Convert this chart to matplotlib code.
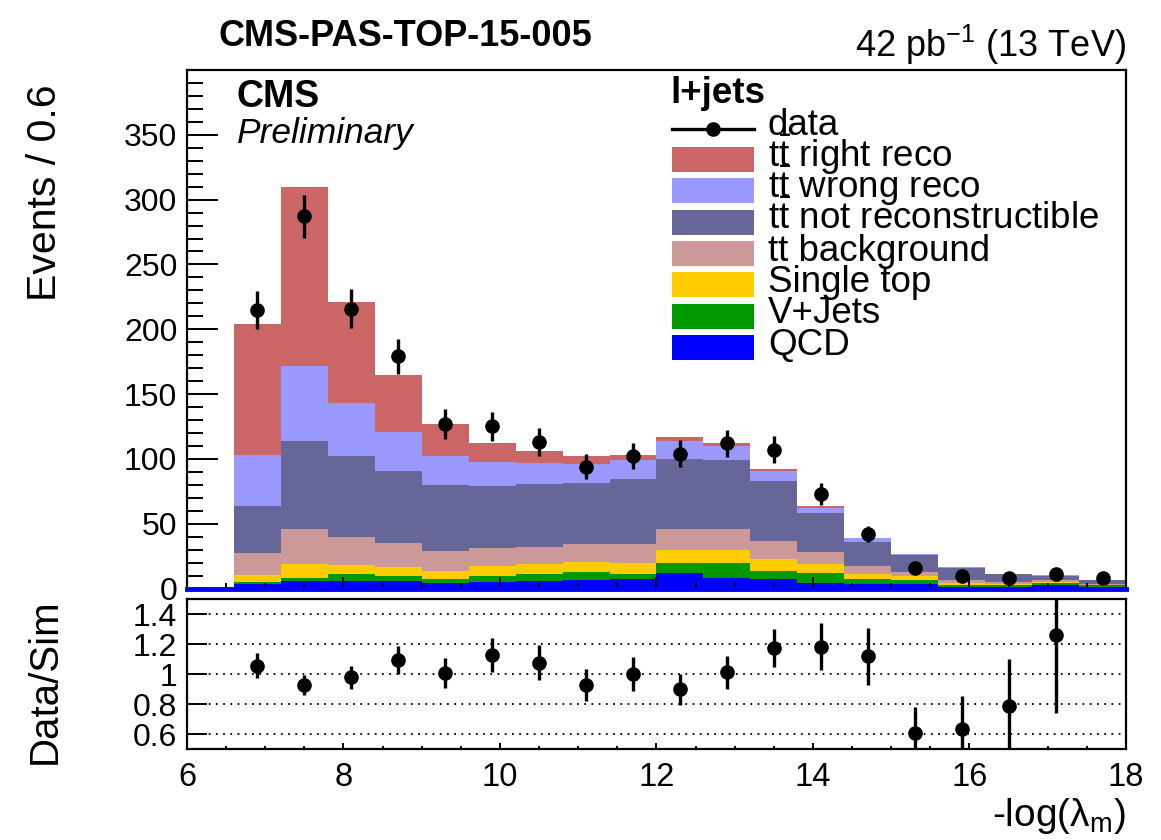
import numpy as np
import matplotlib
matplotlib.use('Agg')
import matplotlib.pyplot as plt
from matplotlib.patches import Rectangle
from matplotlib.lines import Line2D
from matplotlib.ticker import FixedLocator, MultipleLocator

plt.rcParams['font.family'] = ['Liberation Sans', 'DejaVu Sans']
plt.rcParams['mathtext.fontset'] = 'custom'
plt.rcParams['mathtext.rm'] = 'Liberation Sans'
plt.rcParams['mathtext.it'] = 'Liberation Sans:italic'
plt.rcParams['mathtext.bf'] = 'Liberation Sans:bold'

# bins of width 0.6, centres
bin_centers = [6.9, 7.5, 8.1, 8.7, 9.3, 9.9, 10.5, 11.1, 11.7, 12.3,
               12.9, 13.5, 14.1, 14.7, 15.3, 15.9, 16.5, 17.1, 17.7]
bin_width = 0.6

# stacked simulation, bottom to top
qcd = [3.6, 5.5, 5.8, 5.8, 4.5, 5.2, 5.8, 6.3, 7.1, 12.2, 7.9, 7.1, 4.0, 3.6, 3.6, 1.5, 1.5, 3.0, 1.5]
vjets = [1.8, 2.8, 5.2, 3.5, 3.1, 4.5, 5.4, 6.7, 3.9, 7.8, 11.6, 6.4, 7.8, 3.9, 3.1, 1.5, 1.0, 1.0, 1.0]
single_top = [5.4, 10.6, 7.0, 7.2, 5.9, 7.7, 7.5, 7.5, 9.0, 10.0, 10.2, 9.1, 7.2, 3.8, 2.6, 1.5, 1.0, 1.0, 0.5]
tt_bkg = [16.5, 26.8, 22.0, 18.4, 15.5, 13.6, 13.6, 13.5, 14.6, 16.0, 16.0, 14.4, 9.0, 5.9, 3.7, 2.2, 1.4, 1.2, 0.5]
tt_notreco = [36.7, 68.3, 62.0, 55.8, 50.6, 48.3, 48.1, 47.6, 50.2, 54.0, 53.3, 45.7, 30.2, 18.6, 13.0, 9.3, 6.0, 3.6, 2.7]
tt_wrong = [39.0, 58.0, 41.0, 30.3, 22.4, 18.3, 16.6, 14.7, 14.2, 14.0, 11.0, 8.0, 4.2, 3.1, 0.8, 0.5, 0.4, 0.5, 0.5]
tt_right = [101.0, 138.0, 78.0, 44.0, 25.0, 14.4, 9.0, 5.7, 4.0, 2.5, 2.0, 1.8, 1.0, 0.3, 0.2, 0.2, 0.1, 0.1, 0.1]

data = [215, 287, 216, 179, 127, 125, 113, 94, 102, 104, 112, 107, 73, 42, 16, 10, 8, 11, 8]
data_err = [14.7, 16.9, 14.7, 13.4, 11.3, 11.2, 10.6, 9.7, 10.1, 10.2, 10.6, 10.3, 8.5, 6.5, 4.0, 3.2, 2.8, 3.3, 2.8]

ratio = [1.055, 0.929, 0.98, 1.095, 1.007, 1.128, 1.077, 0.929, 1.0, 0.90,
         1.011, 1.172, 1.183, 1.12, 0.609, 0.635, 0.79, 1.26]
ratio_err = [0.083, 0.066, 0.077, 0.094, 0.10, 0.114, 0.115, 0.108, 0.115, 0.103,
             0.11, 0.127, 0.155, 0.19, 0.17, 0.22, 0.31, 0.52]

samples = [
    ('QCD', qcd, '#0000ff'),
    ('V+Jets', vjets, '#009900'),
    ('Single top', single_top, '#ffcc00'),
    ('tt background', tt_bkg, '#cc9999'),
    (r'$\mathrm{t\bar{t}}$ not reconstructible', tt_notreco, '#666699'),
    (r'$\mathrm{t\bar{t}}$ wrong reco', tt_wrong, '#9999ff'),
    (r'$\mathrm{t\bar{t}}$ right reco', tt_right, '#cc6666'),
]

centers = np.array(bin_centers)
edges = np.append(centers - bin_width / 2, centers[-1] + bin_width / 2)

W, H = 1161, 840
fig = plt.figure(figsize=(W / 100, H / 100), dpi=100)
ax = fig.add_axes([187 / W, 1 - 588.5 / H, 939 / W, 518.5 / H])
ax2 = fig.add_axes([187 / W, 1 - 749.3 / H, 939 / W, 150.3 / H], sharex=ax)

# stacked histogram
bottom = np.zeros(len(centers))
for name, vals, col in samples:
    top = bottom + np.array(vals)
    ax.stairs(top, edges, baseline=bottom, fill=True, color=col, lw=0, zorder=1)
    bottom = top

ax.errorbar(centers, data, yerr=data_err, fmt='o', color='k', ms=9.5,
            elinewidth=2.4, capsize=0, zorder=5)

ax.set_xlim(6, 18)
ax.set_ylim(0, 400)
ax.yaxis.set_major_locator(FixedLocator([0, 50, 100, 150, 200, 250, 300, 350]))
ax.yaxis.set_minor_locator(FixedLocator(list(range(10, 400, 10))))
ax.xaxis.set_major_locator(MultipleLocator(2))
ax.xaxis.set_minor_locator(MultipleLocator(0.5))
ax.tick_params(which='both', direction='in', top=False, right=False,
               labelbottom=False, labelsize=23, width=1.4)
ax.tick_params(axis='y', which='major', length=22, pad=7)
ax.tick_params(axis='y', which='minor', length=11.5)
ax.tick_params(axis='x', which='major', length=8.6)
ax.tick_params(axis='x', which='minor', length=4.3)
for s in ax.spines.values():
    s.set_linewidth(1.6)
ax.spines['bottom'].set_color('#0000ff')
ax.spines['bottom'].set_linewidth(3.5)

ax.set_ylabel('Events / 0.6', fontsize=29.5, ha='right', va='center')
ax.yaxis.set_label_coords(-0.151, (588.5 - 85) / 518.5)


def px(x, y):
    # figure pixel -> axes fraction of the main panel
    return (x - 187) / 939, (588.5 - y) / 518.5


ax.text(*px(237, 97.5), 'CMS', transform=ax.transAxes, fontsize=27,
        weight='bold', va='center', ha='left')
ax.text(*px(237, 143), 'Preliminary', transform=ax.transAxes, fontsize=25.5,
        style='italic', va='baseline', ha='left')

# legend drawn by hand
ax.text(*px(670, 103), 'l+jets', transform=ax.transAxes, fontsize=26.5,
        weight='bold', va='baseline', ha='left')
x0, y0 = px(672, 129)
x1, _ = px(754, 129)
ax.add_line(Line2D([x0, x1], [y0, y0], color='k', lw=2.4, transform=ax.transAxes))
ax.add_line(Line2D([(x0 + x1) / 2], [y0], marker='o', ms=9.5, color='k',
                   transform=ax.transAxes))
ax.text(*px(768, 135.5), 'data', transform=ax.transAxes, fontsize=26.5, va='baseline')
row_y = [160, 191, 222.5, 254, 285, 316.6, 348]
for (name, vals, col), yc in zip(samples[::-1], row_y):
    rx, ry = px(672, yc + 12.5)
    ax.add_patch(Rectangle((rx, ry), 82 / 939, 25 / 518.5, transform=ax.transAxes,
                           facecolor=col, edgecolor='none'))
    ax.text(*px(768, yc + 6.8), name, transform=ax.transAxes, fontsize=26.5,
            va='baseline')

# ratio panel
ax2.errorbar(centers[:len(ratio)], ratio, yerr=ratio_err, fmt='o', color='k',
             ms=9.5, elinewidth=2.4, capsize=0, zorder=5)
ax2.set_ylim(0.5, 1.5)
ax2.yaxis.set_major_locator(FixedLocator([0.6, 0.8, 1.0, 1.2, 1.4]))
ax2.set_yticklabels(['0.6', '0.8', '1', '1.2', '1.4'])
ax2.yaxis.grid(True, color='k', linestyle=(0, (1, 3)), lw=1.3)
ax2.tick_params(which='both', direction='in', top=False, right=False,
                labelsize=23, width=1.4)
ax2.tick_params(axis='y', which='major', length=14.4, pad=7)
ax2.tick_params(axis='y', which='minor', length=0)
ax2.tick_params(axis='x', which='major', length=4.5, pad=9, labelsize=23.5)
ax2.tick_params(axis='x', which='minor', length=2.5)
for s in ax2.spines.values():
    s.set_linewidth(1.6)

ax2.set_ylabel('Data/Sim', fontsize=29, ha='center', va='center')
ax2.yaxis.set_label_coords(-0.151, 0.455)
ax2.set_xlabel(r'-log($\mathrm{\lambda_m}$)', fontsize=28, ha='right', va='baseline')
ax2.xaxis.set_label_coords(1.0, -(826 - 749.3) / 150.3)

fig.text(218 / W, 1 - 37 / H, 'CMS-PAS-TOP-15-005', fontsize=26, weight='bold',
         va='center', ha='left')
fig.text(1126 / W, 1 - 45 / H, r'42 pb$^{-1}$ (13 TeV)', fontsize=26,
         va='center', ha='right')

fig.savefig('out.png', dpi=100)
